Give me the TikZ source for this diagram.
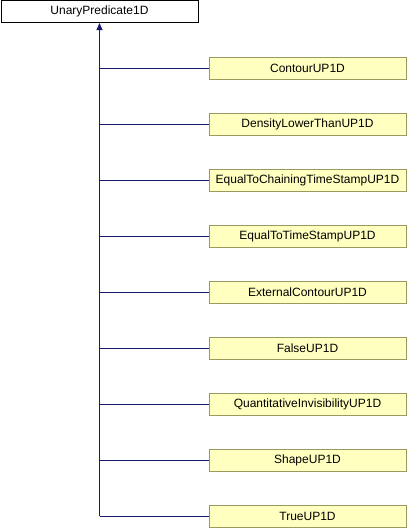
\documentclass[tikz,border=0pt]{standalone}
\usepackage{fontspec}
\setmainfont{Liberation Sans}
\usetikzlibrary{arrows.meta}
\definecolor{boxfill}{RGB}{255,255,192}
\definecolor{boxline}{RGB}{153,153,96}
\definecolor{edge}{RGB}{25,25,112}
\begin{document}
\begin{tikzpicture}[x=1pt,y=-1pt,
  base/.style={draw=black,fill=white,line width=1pt,minimum width=197pt,minimum height=22pt,inner sep=0pt,font=\fontsize{12pt}{14pt}\selectfont},
  child/.style={draw=boxline,fill=boxfill,line width=1pt,minimum width=197pt,minimum height=22pt,inner sep=0pt,font=\fontsize{12pt}{14pt}\selectfont},
  link/.style={draw=edge,line width=1pt}]
\useasboundingbox (0,0) rectangle (408,528);
\node[base] (root) at (99.5,11.5) {UnaryPredicate1D};
\foreach \i/\name/\txt in {0/c0/ContourUP1D,1/c1/DensityLowerThanUP1D,2/c2/EqualToChainingTimeStampUP1D,3/c3/EqualToTimeStampUP1D,4/c4/ExternalContourUP1D,5/c5/FalseUP1D,6/c6/QuantitativeInvisibilityUP1D,7/c7/ShapeUP1D,8/c8/TrueUP1D}{
  \node[child] (\name) at (307.5,{68+56*\i}) {\txt};
  \coordinate (j\name) at (99.5,{68+56*\i});
  \draw[link] (j\name) -- (\name.west);
}
\draw[link,-{Triangle[length=7pt,width=6pt]}] (jc8) -- (root.south);
\end{tikzpicture}
\end{document}
